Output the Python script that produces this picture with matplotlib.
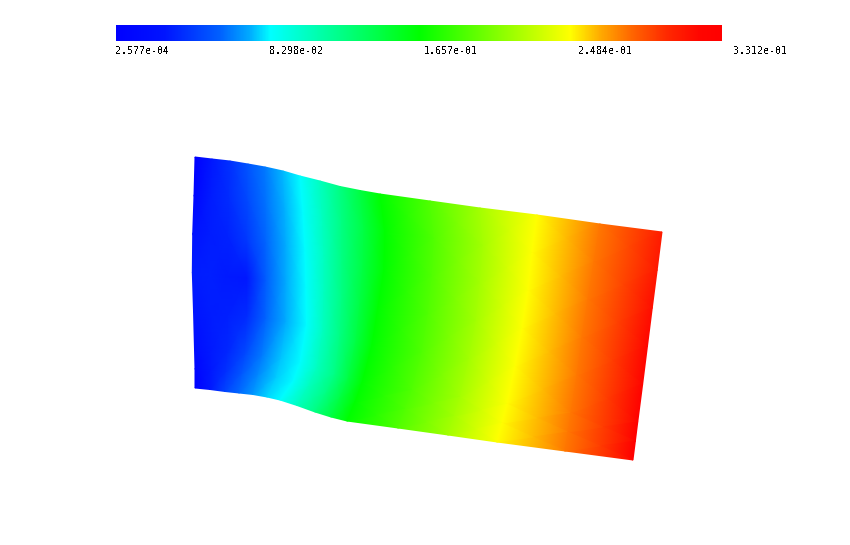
import numpy as np
import matplotlib
matplotlib.use("Agg")
import matplotlib.pyplot as plt
from matplotlib.colors import LinearSegmentedColormap, Normalize

W, H = 850, 545
vmin, vmax = 2.577e-04, 3.312e-01
tick_values = [2.577e-04, 8.298e-02, 1.657e-01, 2.484e-01, 3.312e-01]
tick_x_px = [142, 296, 451, 605, 760]

row_t = [0, 0.167, 0.333, 0.5, 0.667, 0.833, 0.917, 1]
top_y = [157, 159, 161, 164, 167, 171, 176, 181, 186.5, 190.5, 194, 201, 208, 215, 224, 232]
bottom_y = [388, 389.5, 391.5, 393, 394.5, 397, 400, 405.5, 412, 417, 421, 428, 435, 442, 451, 460]

node_x = [
    [195, 212, 230, 248, 265, 283, 300, 320, 340, 360, 380, 430, 480, 537, 600, 662],
    [194, 211, 229, 248, 266, 285, 303, 322.5, 342, 364, 385, 434, 483, 532, 594, 657.2],
    [192.7, 210, 228, 247, 266, 286, 305, 324, 342, 363, 384, 432, 480, 528, 588, 652.3],
    [192.3, 210, 228, 247, 266, 286, 306, 324, 342, 360, 378, 428, 476, 522, 582, 647.5],
    [193.5, 210.5, 228, 247, 266, 286, 306.5, 323, 340, 356, 372, 422, 469, 515, 577, 642.7],
    [194.5, 211, 227, 245, 262, 281, 300, 317, 335, 348, 362, 412, 460, 507, 571, 637.8],
    [195, 210.5, 226, 242, 258, 276, 293, 308, 326, 340, 355, 405, 454, 502, 568, 635.4],
    [195, 210, 225, 239, 253, 267, 280, 297, 315, 331, 347, 398, 448, 497, 565, 633],
]
node_v = [
    [0.0003, 0.028, 0.038, 0.052, 0.062, 0.075, 0.0845, 0.105, 0.125, 0.145, 0.1657, 0.192, 0.219, 0.2484, 0.2776, 0.308],
    [0.007, 0.030, 0.036, 0.048, 0.061, 0.074, 0.0845, 0.105, 0.125, 0.145, 0.1657, 0.192, 0.219, 0.2484, 0.2776, 0.310],
    [0.024, 0.030, 0.032, 0.041, 0.058, 0.0735, 0.0845, 0.105, 0.125, 0.145, 0.1657, 0.192, 0.219, 0.2484, 0.2776, 0.315],
    [0.030, 0.031, 0.029, 0.028, 0.056, 0.073, 0.0845, 0.105, 0.125, 0.145, 0.1657, 0.192, 0.219, 0.2484, 0.2776, 0.320],
    [0.027, 0.030, 0.031, 0.036, 0.058, 0.0735, 0.0845, 0.105, 0.125, 0.145, 0.1657, 0.192, 0.219, 0.2484, 0.2776, 0.325],
    [0.016, 0.029, 0.034, 0.048, 0.063, 0.077, 0.0845, 0.105, 0.125, 0.145, 0.1657, 0.192, 0.219, 0.2484, 0.2776, 0.328],
    [0.007, 0.028, 0.038, 0.054, 0.066, 0.078, 0.0845, 0.105, 0.125, 0.145, 0.1657, 0.192, 0.219, 0.2484, 0.2776, 0.330],
    [0.0008, 0.028, 0.046, 0.059, 0.069, 0.079, 0.0845, 0.105, 0.125, 0.145, 0.1657, 0.192, 0.219, 0.2484, 0.2776, 0.3312],
]

cmap_stops = [
    (0.00, "#0000ff"), (0.08, "#0014ff"), (0.17, "#005fff"), (0.22, "#00aaff"),
    (0.255, "#00ffff"), (0.50, "#00ff00"), (0.75, "#ffff00"), (0.80, "#ffaa00"),
    (0.853, "#ff6400"), (0.91, "#ff2800"), (0.964, "#ff0500"), (1.00, "#ff0000"),
]
cmap = LinearSegmentedColormap.from_list("rainbow5", cmap_stops, N=1024)
norm = Normalize(vmin, vmax)

fig = plt.figure(figsize=(W / 100, H / 100), dpi=100, facecolor="white")
ax = fig.add_axes([0, 0, 1, 1])
ax.set_xlim(0, W)
ax.set_ylim(H, 0)
ax.axis("off")

X = np.array(node_x, dtype=float)
top = np.array(top_y, dtype=float)
bottom = np.array(bottom_y, dtype=float)
Y = np.array([top + t * (bottom - top) for t in row_t])
V = np.array(node_v)
ax.pcolormesh(X, Y, V, cmap=cmap, norm=norm, shading="gouraud", antialiased=False)

cax = fig.add_axes([116 / W, 1 - 41 / H, 606 / W, 16 / H])
cb = fig.colorbar(plt.cm.ScalarMappable(norm=norm, cmap=cmap), cax=cax, orientation="horizontal")
cb.outline.set_visible(False)
cb.set_ticks([])

for v, x in zip(tick_values, tick_x_px):
    ax.text(x, 51, f"{v:.3e}", ha="center", va="center", antialiased=False,
            family="DejaVu Sans Mono", fontsize=7.2, color="black")

fig.savefig("out.png", dpi=100)
